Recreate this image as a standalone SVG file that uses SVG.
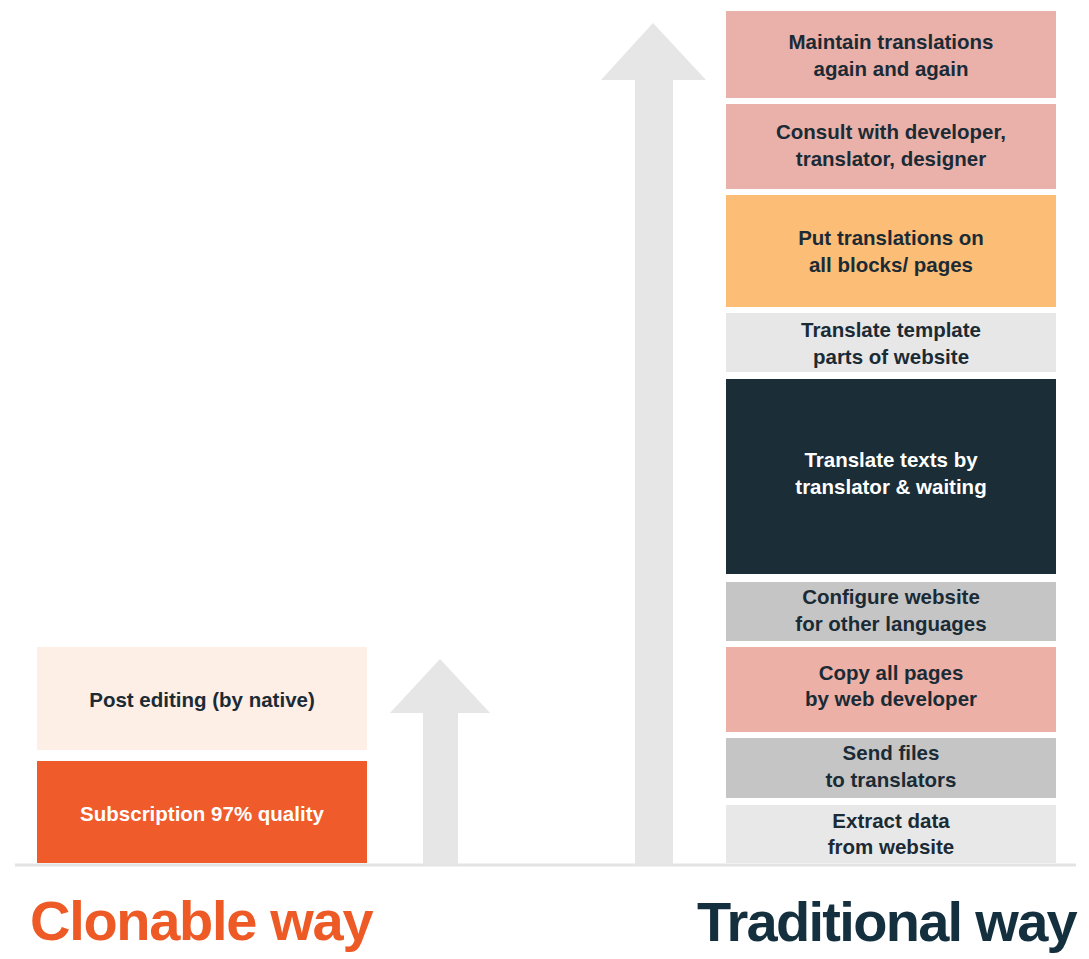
<svg xmlns="http://www.w3.org/2000/svg" width="1089" height="959" viewBox="0 0 1089 959">
<style>
.t{font-family:"Liberation Sans",Arial,sans-serif;font-weight:bold;font-size:20.5px;fill:#1b2b35;text-anchor:middle}
.w{fill:#ffffff}
.arrow{fill:#e6e6e6}
.title{font-family:"Liberation Sans",Arial,sans-serif;font-weight:bold;font-size:56px}
</style>
<rect width="1089" height="959" fill="#ffffff"/>
<g id="connectors">
<line x1="15" y1="865" x2="1076" y2="865" stroke="#e3e3e3" stroke-width="3"/>
<polygon id="arrow-left" class="arrow" points="423,865 423,713 390,713 440,659 490,713 458,713 458,865"/>
<polygon id="arrow-right" class="arrow" points="635,865 635,80 601,80 653,23 706,80 673,80 673,865"/>
</g>
<g id="post-editing"><rect x="37" y="647" width="330" height="103" fill="#fdeee6"/><text class="t" x="202" y="707">Post editing (by native)</text></g>
<g id="subscription"><rect x="37" y="761" width="330" height="102" fill="#ef5b2a"/><text class="t w" x="202" y="821">Subscription 97% quality</text></g>
<g id="maintain"><rect x="726" y="11" width="330" height="87" fill="#e9b1aa"/><text class="t" x="891" y="49">Maintain translations</text><text class="t" x="891" y="76">again and again</text></g>
<g id="consult"><rect x="726" y="104" width="330" height="85" fill="#e9b1aa"/><text class="t" x="891" y="139">Consult with developer,</text><text class="t" x="891" y="166">translator, designer</text></g>
<g id="put"><rect x="726" y="195" width="330" height="112" fill="#fcbd76"/><text class="t" x="891" y="245">Put translations on</text><text class="t" x="891" y="272">all blocks/ pages</text></g>
<g id="template"><rect x="726" y="313" width="330" height="59" fill="#e7e7e7"/><text class="t" x="891" y="337">Translate template</text><text class="t" x="891" y="364">parts of website</text></g>
<g id="texts"><rect x="726" y="379" width="330" height="195" fill="#1b2d37"/><text class="t w" x="891" y="467">Translate texts by</text><text class="t w" x="891" y="494">translator &amp; waiting</text></g>
<g id="configure"><rect x="726" y="582" width="330" height="59" fill="#c5c5c5"/><text class="t" x="891" y="604">Configure website</text><text class="t" x="891" y="631">for other languages</text></g>
<g id="copy"><rect x="726" y="647" width="330" height="85" fill="#edb0a7"/><text class="t" x="891" y="680">Copy all pages</text><text class="t" x="891" y="706">by web developer</text></g>
<g id="send"><rect x="726" y="738" width="330" height="60" fill="#c5c5c5"/><text class="t" x="891" y="760">Send files</text><text class="t" x="891" y="787">to translators</text></g>
<g id="extract"><rect x="726" y="805" width="330" height="58" fill="#e8e8e8"/><text class="t" x="891" y="828">Extract data</text><text class="t" x="891" y="854">from website</text></g>
<g id="labels">
<text class="title" x="30" y="940" fill="#ee5a26" letter-spacing="-1.3">Clonable way</text>
<text class="title" x="697" y="941" fill="#14303f" letter-spacing="-1.7">Traditional way</text>
</g>
</svg>
